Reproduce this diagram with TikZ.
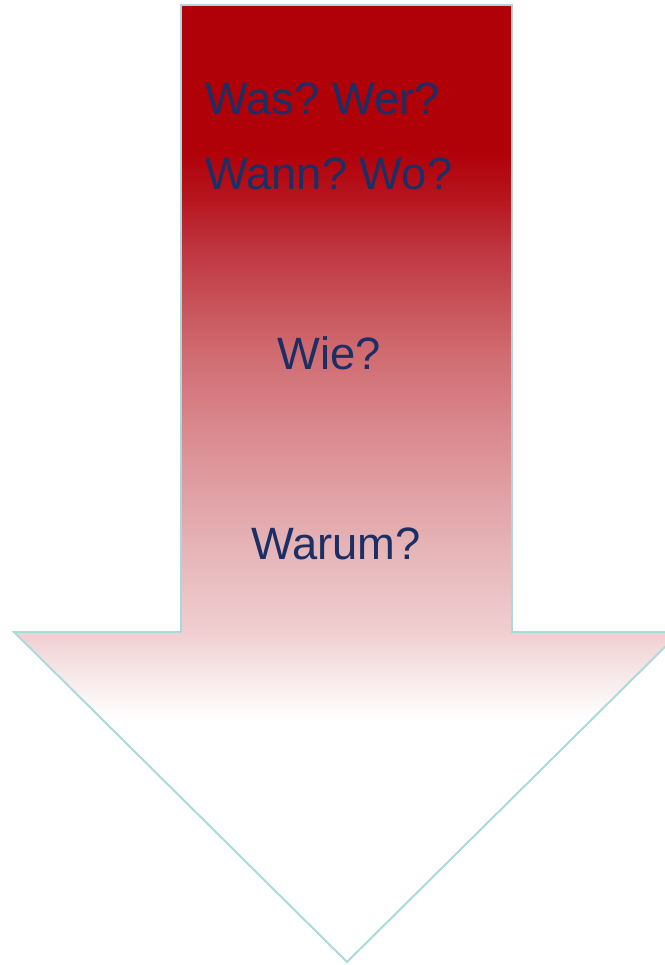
\documentclass[tikz,border=0pt]{standalone}
\usepackage{fontspec}
\setmainfont{Liberation Sans}
\usepackage{tikz}
\frenchspacing

\definecolor{topred}{HTML}{B00008}
\definecolor{redA}{HTML}{B6141E}
\definecolor{redB}{HTML}{BF3640}
\definecolor{redC}{HTML}{CF6A70}
\definecolor{redD}{HTML}{DC9196}
\definecolor{redE}{HTML}{E6B5B8}
\definecolor{redF}{HTML}{F0CFD1}
\definecolor{redG}{HTML}{F7E8E9}
\definecolor{edgecyan}{HTML}{A9D9DB}
\definecolor{textblue}{HTML}{1C2F64}

% fade of the arrow, path box is mapped to 25bp..75bp
\pgfdeclareverticalshading{arrowfade}{100bp}{%
  color(0bp)=(white); color(37.6bp)=(white); color(40bp)=(redG);
  color(42.2bp)=(redF); color(46.5bp)=(redE); color(51.75bp)=(redD);
  color(57bp)=(redC); color(62.2bp)=(redB); color(65bp)=(redA);
  color(67.4bp)=(topred); color(100bp)=(topred)}

\begin{document}
\begin{tikzpicture}[
  x=0.02cm, y=-0.02cm,
  frage/.style={text=textblue, inner sep=0pt, font=\fontsize{25.8}{31}\selectfont\frenchspacing},
  bigarrow/.style={shading=arrowfade, draw=edgecyan, line width=1.1pt, line join=miter}
]
\useasboundingbox (0,0) rectangle (665,965);
\clip (0,0) rectangle (665,965);

\path[bigarrow] (181,5) -- (512,5) -- (512,632) -- (680,632) -- (347,962)
  -- (14,632) -- (181,632) -- cycle;

\node[frage, anchor=base west] (q1) at (205,114) {Was? Wer?};
\node[frage, anchor=base west] (q2) at (205,189) {Wann? Wo?};
\node[frage, anchor=base] (wie) at (329,369) {Wie?};
\node[frage, anchor=base] (warum) at (336,559) {Warum?};
\end{tikzpicture}
\end{document}
